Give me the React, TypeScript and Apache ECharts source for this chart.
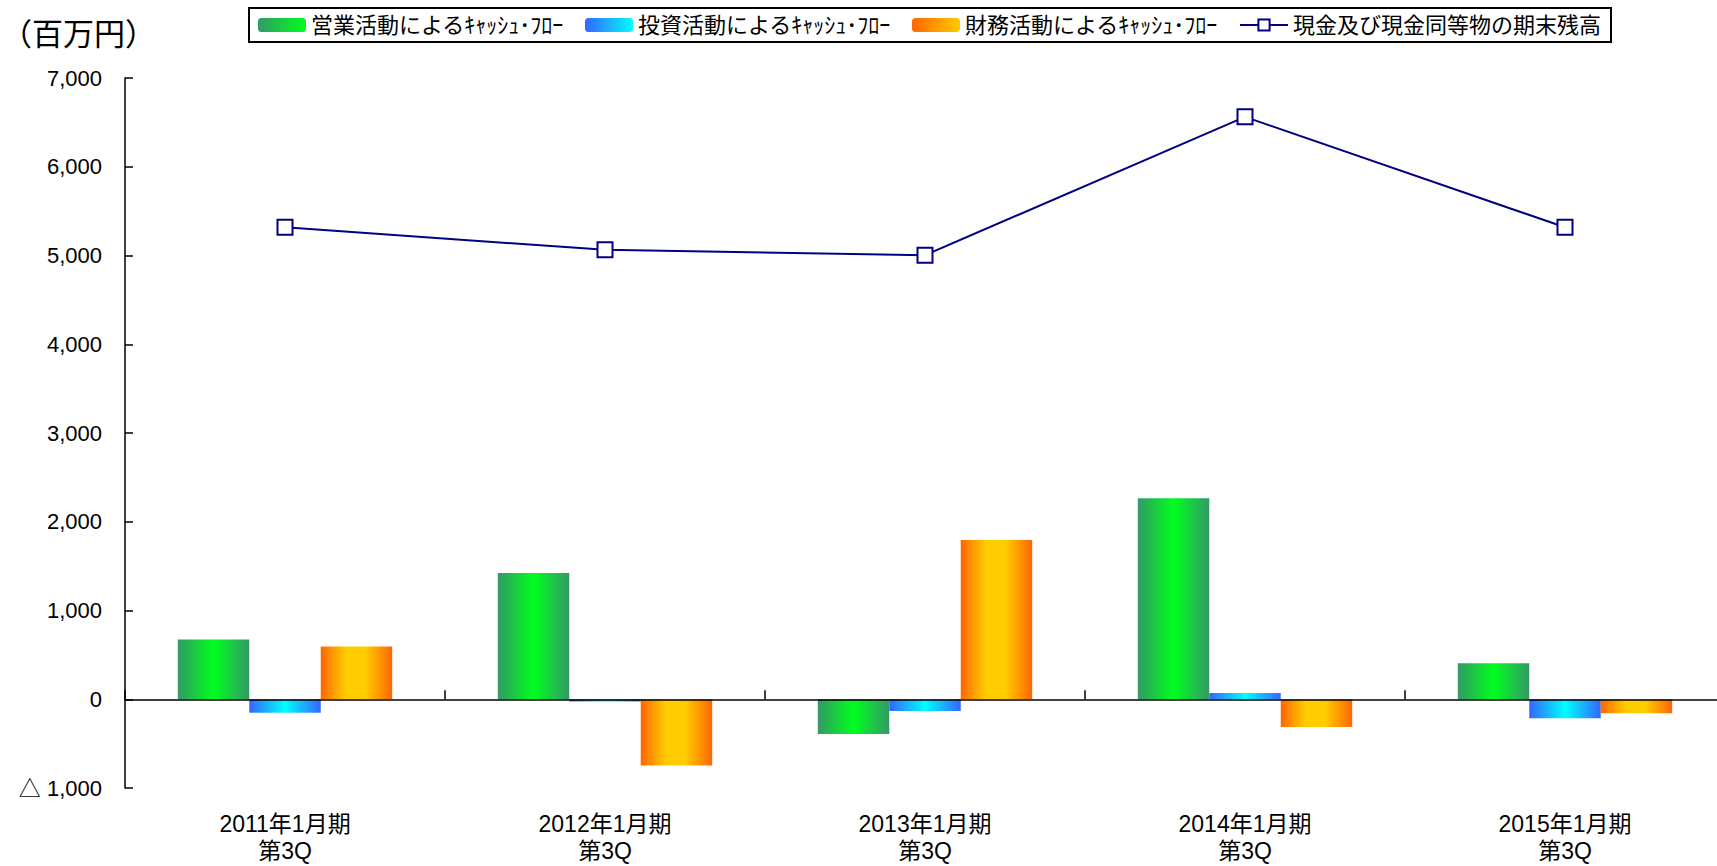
import React, { useEffect, useRef } from "react";
import * as echarts from "echarts";

const categories = [
  "2011年1月期\n第3Q",
  "2012年1月期\n第3Q",
  "2013年1月期\n第3Q",
  "2014年1月期\n第3Q",
  "2015年1月期\n第3Q",
];
const seriesNames = [
  "営業活動によるｷｬｯｼｭ･ﾌﾛｰ",
  "投資活動によるｷｬｯｼｭ･ﾌﾛｰ",
  "財務活動によるｷｬｯｼｭ･ﾌﾛｰ",
  "現金及び現金同等物の期末残高",
];
const operatingCF = [672, 1423, -392, 2266, 407];
const investingCF = [-153, -25, -131, 71, -213];
const financingCF = [594, -747, 1793, -314, -157];
const cashBalance = [5318, 5064, 5004, 6562, 5318];
const unitLabel = "（百万円）";
const yMin = -1000;
const yMax = 7000;
const yInterval = 1000;

const FONT = "'Liberation Sans', 'Noto Sans CJK JP', sans-serif";

const hGrad = (stops: [number, string][]) =>
  new echarts.graphic.LinearGradient(
    0,
    0,
    1,
    0,
    stops.map(([offset, color]) => ({ offset, color }))
  );

const greenBar = () => hGrad([[0, "#339966"], [0.5, "#00ff1e"], [1, "#339966"]]);
const blueBar = () => hGrad([[0, "#3366ff"], [0.5, "#00ffff"], [1, "#3366ff"]]);
const orangeBar = () =>
  hGrad([[0, "#ff6600"], [0.35, "#ffcc00"], [0.62, "#ffcc00"], [1, "#ff6600"]]);
const greenIcon = () => hGrad([[0, "#339966"], [1, "#00ff1e"]]);
const blueIcon = () => hGrad([[0, "#3366ff"], [1, "#00ffff"]]);
const orangeIcon = () => hGrad([[0, "#ff6600"], [1, "#ffcc00"]]);

const fmt = (v: number) => {
  const s = Math.abs(v).toLocaleString("en-US");
  return v < 0 ? "△ " + s : s;
};

export default function App() {
  const ref = useRef<HTMLDivElement>(null);
  useEffect(() => {
    document.body.style.margin = "0";
    document.body.style.overflow = "hidden";
    document.documentElement.style.overflow = "hidden";
    if (!ref.current) return;
    const chart = echarts.init(ref.current, null, { renderer: "svg" });
    const option: any = {
      animation: false,
      backgroundColor: "#ffffff",
      textStyle: { fontFamily: FONT, color: "#000" },
      graphic: [
        {
          type: "text",
          x: 1,
          y: 34,
          style: {
            text: unitLabel,
            fontSize: 31,
            fontFamily: FONT,
            fill: "#000",
            verticalAlign: "middle",
          },
        },
      ],
      legend: {
        left: 249,
        top: 8,
        padding: [6, 10, 6, 9],
        borderColor: "#000",
        borderWidth: 2,
        itemWidth: 48,
        itemHeight: 14,
        itemGap: 21,
        textStyle: { fontSize: 22, fontFamily: FONT, color: "#000" },
        data: [
          { name: seriesNames[0], itemStyle: { color: greenIcon() } },
          { name: seriesNames[1], itemStyle: { color: blueIcon() } },
          { name: seriesNames[2], itemStyle: { color: orangeIcon() } },
          { name: seriesNames[3] },
        ],
      },
      grid: {
        left: 125,
        right: -8,
        top: 78,
        bottom: 78,
        containLabel: false,
        outerBoundsMode: "none",
      },
      xAxis: [
        {
          type: "category",
          data: categories,
          position: "top",
          z: 5,
          axisLine: { show: true, onZero: true, lineStyle: { color: "#000", width: 1.5 } },
          axisTick: { show: true, inside: false, length: 9, lineStyle: { color: "#000", width: 1.5 } },
          axisLabel: { show: false },
          splitLine: { show: false },
        },
        {
          type: "category",
          data: categories,
          position: "bottom",
          axisLine: { show: false, onZero: false },
          axisTick: { show: false },
          axisLabel: {
            show: true,
            margin: 22,
            fontSize: 23,
            lineHeight: 27,
            color: "#000",
            fontFamily: FONT,
          },
          splitLine: { show: false },
        },
      ],
      yAxis: {
        type: "value",
        min: yMin,
        max: yMax,
        interval: yInterval,
        axisLine: { show: true, onZero: false, lineStyle: { color: "#000", width: 1.5 } },
        axisTick: { show: true, inside: true, length: 8, lineStyle: { color: "#000", width: 1.5 } },
        axisLabel: { formatter: fmt, fontSize: 22, margin: 23, color: "#000", fontFamily: FONT },
        splitLine: { show: false },
      },
      series: [
        {
          name: seriesNames[0],
          type: "bar",
          xAxisIndex: 0,
          data: operatingCF,
          barGap: "0%",
          barCategoryGap: "33%",
          itemStyle: { color: greenBar() },
        },
        {
          name: seriesNames[1],
          type: "bar",
          xAxisIndex: 0,
          data: investingCF,
          barGap: "0%",
          barCategoryGap: "33%",
          itemStyle: { color: blueBar() },
        },
        {
          name: seriesNames[2],
          type: "bar",
          xAxisIndex: 0,
          data: financingCF,
          barGap: "0%",
          barCategoryGap: "33%",
          itemStyle: { color: orangeBar() },
        },
        {
          name: seriesNames[3],
          type: "line",
          xAxisIndex: 0,
          data: cashBalance,
          symbol: "rect",
          symbolSize: 15,
          z: 6,
          lineStyle: { color: "#000080", width: 2 },
          itemStyle: { color: "#ffffff", borderColor: "#000080", borderWidth: 2 },
        },
      ],
    };
    chart.setOption(option);
    return () => chart.dispose();
  }, []);
  return (
    <div
      ref={ref}
      style={{ width: 1717, height: 866, overflow: "hidden", display: "block" }}
    />
  );
}
